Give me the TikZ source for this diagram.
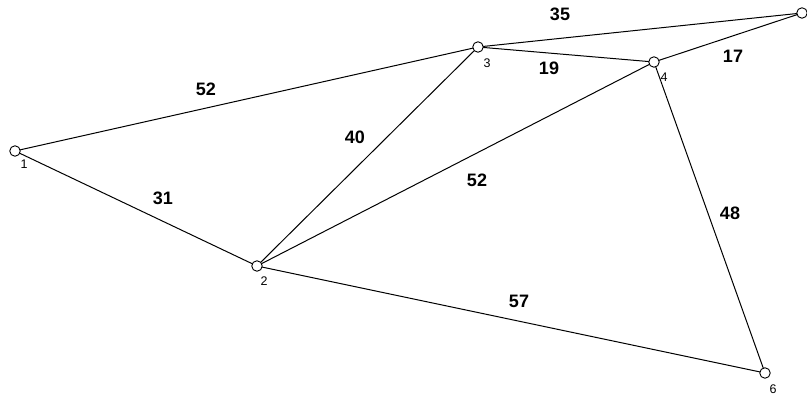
\documentclass[tikz,border=0pt]{standalone}
\usepackage{fontspec}
\setmainfont{Liberation Sans}
\begin{document}
\begin{tikzpicture}[x=1pt,y=-1pt,
  vert/.style={circle,draw,fill=white,inner sep=0pt,minimum size=10.5pt,line width=0.9pt},
  vlab/.style={font=\fontsize{12.5}{12.5}\selectfont,inner sep=0pt},
  elab/.style={font=\bfseries\fontsize{18}{18}\selectfont,inner sep=0pt},
  edge/.style={line width=1pt}]
\useasboundingbox (0,0) rectangle (807,398);
\coordinate (p1) at (15,151);
\coordinate (p2) at (257,266);
\coordinate (p3) at (478,47);
\coordinate (p4) at (654,62);
\coordinate (p5) at (802,13);
\coordinate (p6) at (765,373);
\draw[edge] (p1) -- (p3);
\draw[edge] (p1) -- (p2);
\draw[edge] (p2) -- (p3);
\draw[edge] (p2) -- (p4);
\draw[edge] (p2) -- (p6);
\draw[edge] (p3) -- (p4);
\draw[edge] (p3) -- (p5);
\draw[edge] (p4) -- (p5);
\draw[edge] (p4) -- (p6);
\node[vert] (n1) at (p1) {};
\node[vert] (n2) at (p2) {};
\node[vert] (n3) at (p3) {};
\node[vert] (n4) at (p4) {};
\node[vert] (n5) at (p5) {};
\node[vert] (n6) at (p6) {};
\node[vlab] (l1) at (24,164) {1};
\node[vlab] (l2) at (264,281) {2};
\node[vlab] (l3) at (487,63) {3};
\node[vlab] (l4) at (664,77) {4};
\node[vlab] (l6) at (773,389) {6};
\node[elab] (e35) at (560,14) {35};
\node[elab] (e17) at (733,56) {17};
\node[elab] (e52a) at (206,89) {52};
\node[elab] (e19) at (549,68) {19};
\node[elab] (e40) at (355,137) {40};
\node[elab] (e52b) at (477,180) {52};
\node[elab] (e31) at (163,198) {31};
\node[elab] (e48) at (730,213) {48};
\node[elab] (e57) at (519,301) {57};
\end{tikzpicture}
\end{document}
